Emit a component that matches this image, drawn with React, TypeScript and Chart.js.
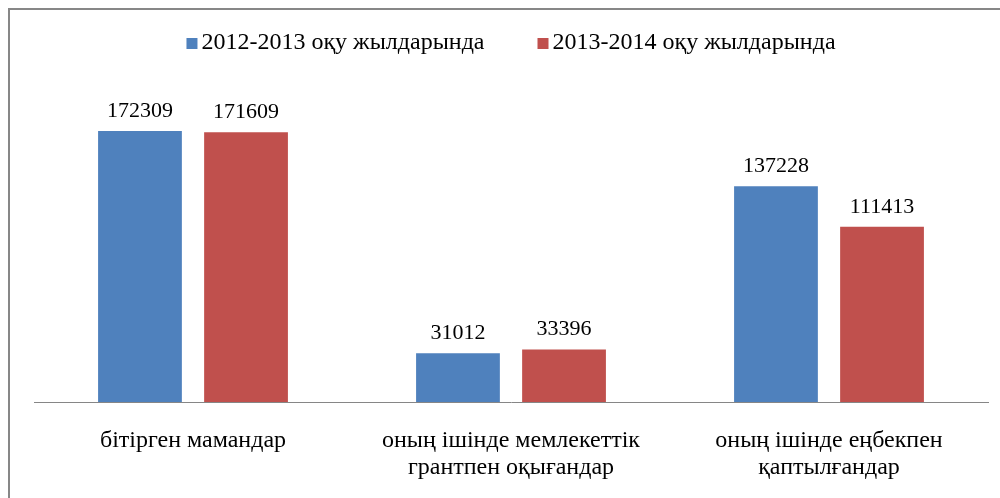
import React, { useEffect, useRef } from "react";
import { Chart, registerables } from "chart.js";

Chart.register(...registerables);

const categories: string[][] = [
  ["бітірген мамандар"],
  ["оның ішінде мемлекеттік", "грантпен оқығандар"],
  ["оның ішінде еңбекпен", "қаптылғандар"],
];
const seriesNames: string[] = ["2012-2013 оқу жылдарында", "2013-2014 оқу жылдарында"];
const values2012: number[] = [172309, 31012, 137228];
const values2013: number[] = [171609, 33396, 111413];
const colors: string[] = ["#4F81BD", "#C0504D"];

const FONT = "'Liberation Serif', 'Times New Roman', serif";

const valueLabels = {
  id: "valueLabels",
  afterDatasetsDraw(chart: any) {
    const ctx = chart.ctx;
    ctx.save();
    ctx.font = `22px ${FONT}`;
    ctx.fillStyle = "#000000";
    ctx.textAlign = "center";
    ctx.textBaseline = "alphabetic";
    chart.data.datasets.forEach((ds: any, di: number) => {
      const meta = chart.getDatasetMeta(di);
      meta.data.forEach((bar: any, i: number) => {
        ctx.fillText(String(ds.data[i]), bar.x, bar.y - 14);
      });
    });
    ctx.restore();
  },
};

const topLegend = {
  id: "topLegend",
  afterDraw(chart: any) {
    const ctx = chart.ctx;
    const box = 11;
    const textGap = 4;
    const itemGap = 53;
    const cy = 43.5;
    ctx.save();
    ctx.font = `24px ${FONT}`;
    const items = chart.data.datasets.map((ds: any) => ({
      text: ds.label,
      color: ds.backgroundColor,
      w: ctx.measureText(ds.label).width,
    }));
    const total =
      items.reduce((s: number, it: any) => s + box + textGap + it.w, 0) + itemGap * (items.length - 1);
    const ca = chart.chartArea;
    let x = (ca.left + ca.right) / 2 - total / 2;
    ctx.textBaseline = "middle";
    ctx.textAlign = "left";
    items.forEach((it: any) => {
      ctx.fillStyle = it.color;
      ctx.fillRect(x, cy - box / 2, box, box);
      ctx.fillStyle = "#000000";
      ctx.fillText(it.text, x + box + textGap, cy - 1);
      x += box + textGap + it.w + itemGap;
    });
    ctx.restore();
  },
};

export default function App() {
  const ref = useRef<HTMLCanvasElement | null>(null);
  useEffect(() => {
    if (!ref.current) return;
    const chart = new Chart(ref.current, {
      type: "bar",
      data: {
        labels: categories,
        datasets: [
          { label: seriesNames[0], data: values2012, backgroundColor: colors[0], categoryPercentage: 0.667, barPercentage: 0.79 },
          { label: seriesNames[1], data: values2013, backgroundColor: colors[1], categoryPercentage: 0.667, barPercentage: 0.79 },
        ],
      },
      options: {
        animation: false,
        responsive: true,
        maintainAspectRatio: false,
        layout: { padding: { left: 34, right: 12, top: 65.5, bottom: 0 } },
        plugins: {
          legend: { display: false },
          tooltip: { enabled: false },
        },
        scales: {
          x: {
            grid: { display: false, drawTicks: false },
            border: { display: true, color: "#868686", width: 1 },
            ticks: {
              color: "#000000",
              padding: 25.5,
              maxRotation: 0,
              autoSkip: false,
              font: { family: FONT, size: 24, lineHeight: 1.125 },
            },
            afterFit(scale: any) {
              scale.height = 96;
            },
          },
          y: {
            display: false,
            min: 0,
            max: 214000,
          },
        },
      },
      plugins: [valueLabels, topLegend],
    });
    return () => chart.destroy();
  }, []);
  return (
    <div style={{ position: "absolute", left: 0, top: 0, width: 1000, height: 498, background: "#ffffff" }}>
      <div
        style={{
          position: "absolute",
          left: 8,
          top: 8,
          width: 992,
          height: 490,
          borderTop: "2px solid #878787",
          borderLeft: "2px solid #878787",
          boxSizing: "border-box",
        }}
      />
      <canvas ref={ref} style={{ position: "absolute", left: 0, top: 0, width: 1000, height: 498 }} />
    </div>
  );
}
